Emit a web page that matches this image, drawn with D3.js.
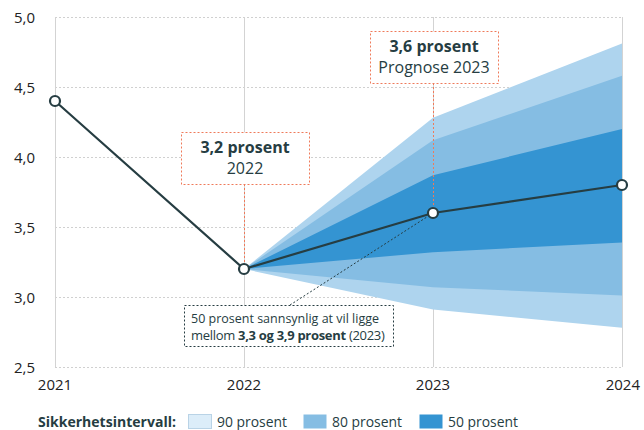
<!DOCTYPE html>
<html><head><meta charset="utf-8">
<script src="https://cdn.jsdelivr.net/npm/d3@7"></script>
<style>body{margin:0;background:#fff}svg{display:block;font-family:"Open Sans",sans-serif}</style>
</head><body><svg id="c" width="644" height="430"></svg>
<script>
const years = [2021, 2022, 2023, 2024];
const actual = [4.4, 3.2, 3.6, 3.8];
const fanYears = [2022, 2023, 2024];
const band90 = {lo: [3.2, 2.91, 2.78], hi: [3.2, 4.28, 4.81]};
const band80 = {lo: [3.2, 3.07, 3.01], hi: [3.2, 4.12, 4.58]};
const band50 = {lo: [3.2, 3.32, 3.39], hi: [3.2, 3.87, 4.20]};
const yTicks = [2.5, 3.0, 3.5, 4.0, 4.5, 5.0];
const legendItems = ["90 prosent", "80 prosent", "50 prosent"];

const svg = d3.select("#c");
const x = d3.scalePoint().domain(years).range([55, 622]);
const y = d3.scaleLinear().domain([2.5, 5.0]).range([367, 17]);
const fmt = v => d3.format(".1f")(v).replace(".", ",");
const dark = "#263d42";

// horizontal grid
svg.append("g").selectAll("line").data(yTicks).join("line")
  .attr("x1", 55).attr("x2", 622).attr("y1", d => y(d) + 0.5).attr("y2", d => y(d) + 0.5)
  .attr("stroke", "#d0d0d0").attr("stroke-dasharray", "2,2");
// vertical grid
svg.append("g").selectAll("line").data(years).join("line")
  .attr("x1", d => x(d) + 0.5).attr("x2", d => x(d) + 0.5).attr("y1", y(5)).attr("y2", y(2.5))
  .attr("stroke", "#d3d3d3").attr("stroke-width", 1);

// y tick labels
svg.append("g").selectAll("text").data(yTicks).join("text")
  .attr("x", 14).attr("y", d => y(d) + 6).attr("font-size", 15).attr("fill", "#222")
  .text(fmt);
// x tick labels
svg.append("g").selectAll("text").data(years).join("text")
  .attr("x", (d, i) => i === 3 ? 640 : x(d)).attr("y", 390)
  .attr("text-anchor", (d, i) => i === 3 ? "end" : "middle")
  .attr("font-size", 15).attr("fill", "#222").text(d => d);

// bands
const bandColors = ["#aed4ee", "#85bde3", "#3494d2"];
[band90, band80, band50].forEach((b, k) => {
  const area = d3.area().x((d, i) => x(fanYears[i])).y0((d, i) => y(b.lo[i])).y1((d, i) => y(b.hi[i]));
  svg.append("path").datum(fanYears).attr("d", area).attr("fill", bandColors[k]);
});

// annotation boxes
function box(x0, y0, w, h, color) {
  svg.append("rect").attr("x", x0).attr("y", y0).attr("width", w).attr("height", h)
    .attr("fill", "#fff").attr("stroke", color).attr("stroke-dasharray", "2,2").attr("stroke-width", 1);
}
const orange = "#ef7a5a";
// 2022 callout
svg.append("line").attr("x1", x(2022) + 0.5).attr("x2", x(2022) + 0.5).attr("y1", 184).attr("y2", y(3.2))
  .attr("stroke", orange).attr("stroke-dasharray", "2,2");
box(181.5, 132.5, 128, 52, orange);
svg.append("text").attr("x", 245).attr("y", 152.5).attr("text-anchor", "middle").attr("font-size", 16)
  .attr("font-weight", "bold").attr("fill", dark).text("3,2 prosent");
svg.append("text").attr("x", 245).attr("y", 173.5).attr("text-anchor", "middle").attr("font-size", 16)
  .attr("fill", dark).text("2022");
// 2023 callout
svg.append("line").attr("x1", x(2023) + 0.5).attr("x2", x(2023) + 0.5).attr("y1", 83).attr("y2", y(3.6))
  .attr("stroke", orange).attr("stroke-dasharray", "2,2");
box(370.5, 31.5, 128, 52, orange);
svg.append("text").attr("x", 434).attr("y", 51.5).attr("text-anchor", "middle").attr("font-size", 16)
  .attr("font-weight", "bold").attr("fill", dark).text("3,6 prosent");
svg.append("text").attr("x", 434).attr("y", 72.5).attr("text-anchor", "middle").attr("font-size", 16)
  .attr("fill", dark).text("Prognose 2023");

// 50% note
svg.append("line").attr("x1", 290).attr("y1", 305).attr("x2", x(2023) - 3).attr("y2", y(3.6) + 2)
  .attr("stroke", dark).attr("stroke-dasharray", "2,2").attr("stroke-width", 1);
box(184.5, 305.5, 209, 41, dark);
svg.append("text").attr("x", 191).attr("y", 323).attr("font-size", 13).attr("fill", dark)
  .attr("textLength", 188).attr("lengthAdjust", "spacingAndGlyphs")
  .text("50 prosent sannsynlig at vil ligge");
const t2 = svg.append("text").attr("x", 191).attr("y", 340).attr("font-size", 13).attr("fill", dark)
  .attr("letter-spacing", -0.3);
t2.append("tspan").text("mellom ");
t2.append("tspan").attr("font-weight", "bold").text("3,3 og 3,9 prosent");
t2.append("tspan").text(" (2023)");

// line
svg.append("path").datum(actual)
  .attr("d", d3.line().x((d, i) => x(years[i])).y(d => y(d)))
  .attr("fill", "none").attr("stroke", dark).attr("stroke-width", 2.2);
svg.append("g").selectAll("circle").data(actual).join("circle")
  .attr("cx", (d, i) => x(years[i])).attr("cy", d => y(d)).attr("r", 5)
  .attr("fill", "#fff").attr("stroke", dark).attr("stroke-width", 2.2);

// legend
svg.append("text").attr("x", 38).attr("y", 427).attr("font-size", 14).attr("font-weight", "bold")
  .attr("fill", dark).attr("textLength", 138).attr("lengthAdjust", "spacingAndGlyphs")
  .text("Sikkerhetsintervall:");
const legX = [188, 303, 419];
const legFill = ["#dcedf9", "#85bde3", "#3494d2"];
legendItems.forEach((t, i) => {
  svg.append("rect").attr("x", legX[i] + 0.5).attr("y", 414.5).attr("width", 23).attr("height", 14)
    .attr("fill", legFill[i]).attr("stroke", i === 0 ? "#b9d3e6" : "none");
  svg.append("text").attr("x", legX[i] + 29).attr("y", 427).attr("font-size", 14).attr("fill", dark)
    .attr("textLength", 70).attr("lengthAdjust", "spacingAndGlyphs").text(t);
});
</script></body></html>
